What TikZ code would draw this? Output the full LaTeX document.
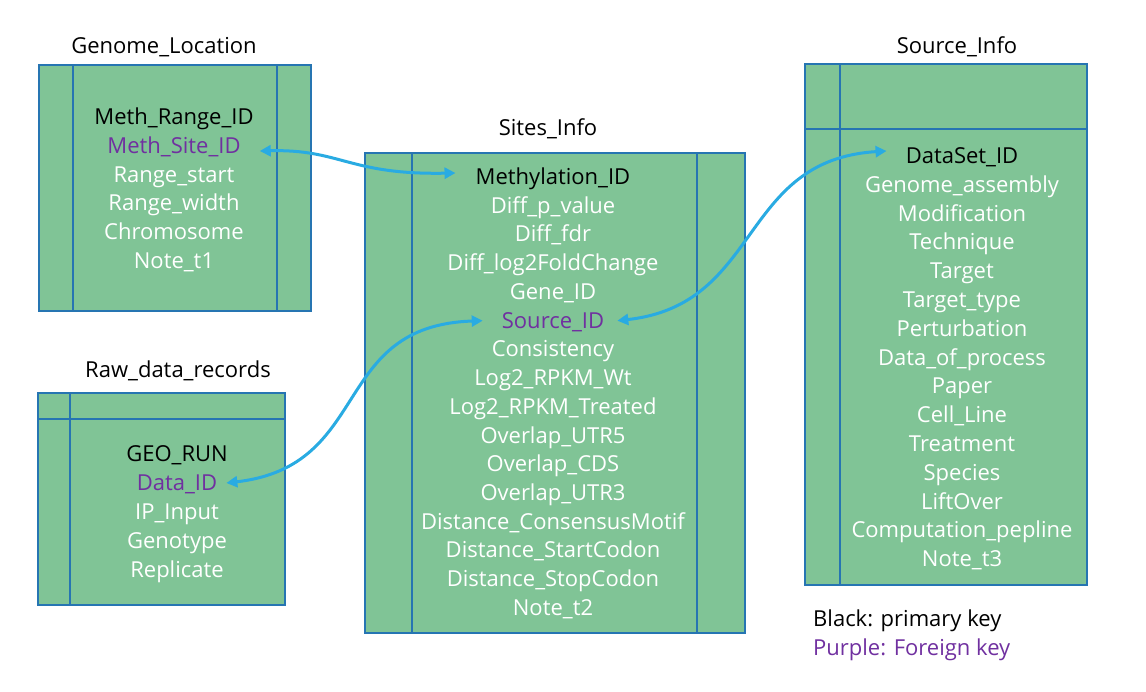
\documentclass[tikz,border=0pt]{standalone}
\usepackage{fontspec}
\setmainfont{Open Sans}
\usetikzlibrary{arrows.meta,positioning}
\definecolor{tablegreen}{RGB}{128,196,150}
\definecolor{frameblue}{RGB}{38,117,178}
\definecolor{linkblue}{RGB}{41,171,226}
\definecolor{keypurple}{RGB}{112,48,160}

\begin{document}
\begin{tikzpicture}[x=1pt, y=-1pt,
    tbl/.style={draw=frameblue, line width=1.6pt, fill=tablegreen, inner sep=0pt},
    rule/.style={draw=frameblue, line width=1.6pt},
    title/.style={font=\fontsize{22}{26}\selectfont, text=black, inner sep=1pt, text height=17pt, text depth=2pt},
    field/.style={font=\fontsize{22}{26}\selectfont, text=white, inner sep=1pt, text height=17pt, text depth=2pt},
    pk/.style={field, text=black},
    fk/.style={field, text=keypurple},
    link/.style={{Triangle[length=11pt,width=11pt]}-{Triangle[length=11pt,width=11pt]}, draw=linkblue, line width=3pt}
]
    \useasboundingbox (0,0) rectangle (1146,692);

    % tables
    \node[tbl, minimum width=272pt, minimum height=246pt] (gl) at (175,188) {};
    \node[tbl, minimum width=247pt, minimum height=212pt] (rd) at (161.5,499) {};
    \node[tbl, minimum width=380pt, minimum height=480pt] (si) at (555,393) {};
    \node[tbl, minimum width=282pt, minimum height=521pt] (ds) at (946,324.5) {};
    \draw[rule] (73,65) -- (73,311);
    \draw[rule] (277,65) -- (277,311);
    \draw[rule] (70,393) -- (70,605);
    \draw[rule] (38,419) -- (285,419);
    \draw[rule] (412,153) -- (412,633);
    \draw[rule] (697,153) -- (697,633);
    \draw[rule] (840,64) -- (840,585);
    \draw[rule] (805,129) -- (1087,129);

    % titles
    \node[title] (gltitle) at (164,46) {Genome\_Location};
    \node[title] (rdtitle) at (178,370) {Raw\_data\_records};
    \node[title] (sititle) at (548,128) {Sites\_Info};
    \node[title] (dstitle) at (957,46) {Source\_Info};

    % Genome_Location fields
    \node[pk] (gl1) at (174,117) {Meth\_Range\_ID};
    \node[fk] (gl2) at (174,146) {Meth\_Site\_ID};
    \foreach \f [count=\i from 3] in {Range\_start, Range\_width, Chromosome, Note\_t1}
        \node[field] (gl\i) at (174,{117+28.8*(\i-1)}) {\f};

    % Raw_data_records fields
    \node[pk] (rd1) at (177,454) {GEO\_RUN};
    \node[fk] (rd2) at (177,483) {Data\_ID};
    \foreach \f [count=\i from 3] in {IP\_Input, Genotype, Replicate}
        \node[field] (rd\i) at (177,{454+29*(\i-1)}) {\f};

    % Sites_Info fields
    \node[pk] (si1) at (553,177) {Methylation\_ID};
    \foreach \f [count=\i from 2] in {Diff\_p\_value, Diff\_fdr, Diff\_log2FoldChange, Gene\_ID}
        \node[field] (si\i) at (553,{177+28.73*(\i-1)}) {\f};
    \node[fk] (si6) at (553,320.7) {Source\_ID};
    \foreach \f [count=\i from 7] in {Consistency, Log2\_RPKM\_Wt, Log2\_RPKM\_Treated, Overlap\_UTR5, Overlap\_CDS, Overlap\_UTR3, Distance\_ConsensusMotif, Distance\_StartCodon, Distance\_StopCodon, Note\_t2}
        \node[field] (si\i) at (553,{177+28.73*(\i-1)}) {\f};

    % Source_Info fields
    \node[pk] (ds1) at (962,156) {DataSet\_ID};
    \foreach \f [count=\i from 2] in {Genome\_assembly, Modification, Technique, Target, Target\_type, Perturbation, Data\_of\_process, Paper, Cell\_Line, Treatment, Species, LiftOver, Computation\_pepline, Note\_t3}
        \node[field] (ds\i) at (962,{156+28.8*(\i-1)}) {\f};

    % legend
    \node[title, anchor=west] (lgpk) at (812,619) {Black: primary key};
    \node[title, anchor=west, text=keypurple] (lgfk) at (812,648) {Purple: Foreign key};

    % links
    \draw[link] ([xshift=18pt,yshift=-5pt]gl2.east) .. controls +(81,-2) and +(-107,2) .. ([xshift=-19pt,yshift=4pt]si1.west);
    \draw[link] ([xshift=12pt]si6.east) .. controls +(145,-16) and +(-148,9) .. ([xshift=-18pt,yshift=5pt]ds1.west);
    \draw[link] ([xshift=8pt]rd2.east) .. controls +(147,-17) and +(-153,5) .. ([xshift=-18pt]si6.west);
\end{tikzpicture}
\end{document}
